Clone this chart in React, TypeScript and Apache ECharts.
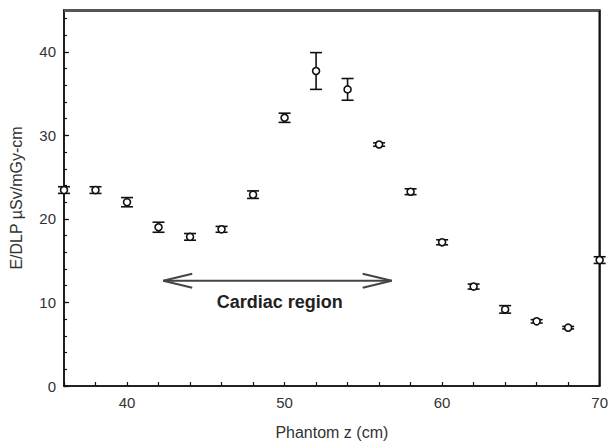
import React, { useEffect, useRef } from "react";
import * as echarts from "echarts";

const zValues = [36, 38, 40, 42, 44, 46, 48, 50, 52, 54, 56, 58, 60, 62, 64, 66, 68, 70];
const eDlp = [23.45, 23.45, 22.0, 19.0, 17.85, 18.75, 22.9, 32.1, 37.7, 35.5, 28.9, 23.25, 17.2, 11.9, 9.17, 7.74, 6.98, 15.07];
const errors = [0.4, 0.4, 0.55, 0.6, 0.4, 0.35, 0.45, 0.55, 2.2, 1.3, 0.2, 0.35, 0.3, 0.3, 0.45, 0.2, 0.15, 0.4];
const xTickLabels = [40, 50, 60, 70];
const yTickLabels = [0, 10, 20, 30, 40];
// annotation: arrow from z start to z end at value level, with label
const arrowSpan = [[42.3, 56.8, 12.6]];
const arrowText = "Cardiac region";
const arrowTextPos = [49.7, 10.05];
// plot frame corners (axis extents)
const frameCorners = [[36, 45, 70, 0]];
const yTop = 45;

export default function App() {
  const ref = useRef<HTMLDivElement>(null);
  useEffect(() => {
    if (!ref.current) return;
    const chart = echarts.init(ref.current, null, { renderer: "svg" });
    const font = "'Liberation Sans', Arial, sans-serif";
    const points = zValues.map((z, i) => [z, eDlp[i]]);
    const bars = zValues.map((z, i) => [z, eDlp[i], errors[i]]);
    chart.setOption({
      animation: false,
      backgroundColor: "#fff",
      grid: {
        show: true,
        left: 64,
        right: 8,
        top: 10,
        bottom: 59,
        containLabel: false,
        borderColor: "#555",
        borderWidth: 2,
      },
      xAxis: [
        {
          type: "value",
          min: 36,
          max: 70,
          interval: 2,
          name: "Phantom z (cm)",
          nameLocation: "middle",
          nameGap: 38,
          nameTextStyle: { fontFamily: font, fontSize: 16, color: "#333" },
          axisLine: { show: true, lineStyle: { color: "#111", width: 1.5 } },
          axisTick: { show: true, inside: true, length: 4, lineStyle: { color: "#111", width: 1.2 } },
          axisLabel: {
            fontFamily: font,
            fontSize: 15,
            color: "#333",
            margin: 9,
            formatter: (v: number) => (xTickLabels.includes(v) ? String(v) : ""),
          },
          splitLine: { show: false },
        },
      ],
      yAxis: [
        {
          type: "value",
          min: 0,
          max: 45,
          interval: 2,
          name: "E/DLP µSv/mGy-cm",
          nameLocation: "middle",
          nameGap: 40,
          nameTextStyle: { fontFamily: font, fontSize: 16, color: "#333" },
          axisLine: { show: true, lineStyle: { color: "#111", width: 1.5 } },
          axisTick: { show: true, inside: true, length: 3, lineStyle: { color: "#111", width: 1.2 } },
          axisLabel: {
            fontFamily: font,
            fontSize: 15,
            color: "#333",
            margin: 8,
            formatter: (v: number) => (yTickLabels.includes(v) ? String(v) : ""),
          },
          splitLine: { show: false },
        },
        {
          type: "value",
          position: "left",
          offset: 0,
          min: 0,
          max: 45,
          interval: 10,
          axisLine: { show: false },
          axisTick: { show: true, inside: true, length: 5, lineStyle: { color: "#111", width: 1.2 } },
          axisLabel: { show: false },
          splitLine: { show: false },
        },
      ],
      series: [
        {
          type: "custom",
          name: "frame",
          xAxisIndex: 0,
          yAxisIndex: 0,
          clip: false,
          silent: true,
          z: 1,
          data: frameCorners,
          encode: { x: [0, 2], y: [1, 3] },
          renderItem: (params: any, api: any) => {
            const tl = api.coord([api.value(0), api.value(1)]);
            const br = api.coord([api.value(2), api.value(3)]);
            return {
              type: "group",
              children: [
                { type: "line", shape: { x1: tl[0], y1: tl[1] + 1, x2: br[0], y2: tl[1] + 1 }, style: { stroke: "#555", lineWidth: 2 } },
                { type: "line", shape: { x1: br[0], y1: tl[1], x2: br[0], y2: br[1] }, style: { stroke: "#111", lineWidth: 2 } },
              ],
            };
          },
        },
        {
          type: "custom",
          name: "errors",
          xAxisIndex: 0,
          yAxisIndex: 1,
          clip: false,
          z: 2,
          data: bars,
          encode: { x: 0, y: 1 },
          renderItem: (params: any, api: any) => {
            const x = api.value(0);
            const y = api.value(1);
            const e = api.value(2);
            const top = api.coord([x, y + e]);
            const bot = api.coord([x, y - e]);
            const hw = 6;
            const style = { stroke: "#111", lineWidth: 1.6 };
            return {
              type: "group",
              children: [
                { type: "line", shape: { x1: top[0], y1: top[1], x2: bot[0], y2: bot[1] }, style },
                { type: "line", shape: { x1: top[0] - hw, y1: top[1], x2: top[0] + hw, y2: top[1] }, style },
                { type: "line", shape: { x1: bot[0] - hw, y1: bot[1], x2: bot[0] + hw, y2: bot[1] }, style },
              ],
            };
          },
        },
        {
          type: "scatter",
          name: "E/DLP",
          xAxisIndex: 0,
          yAxisIndex: 0,
          clip: false,
          z: 3,
          symbol: "circle",
          symbolSize: 7,
          itemStyle: { color: "#fff", borderColor: "#111", borderWidth: 1.6, opacity: 1 },
          data: points,
          markLine: {
            silent: true,
            symbol: "none",
            label: { show: false },
            lineStyle: { color: "#555", width: 2, type: "solid" },
            data: [{ yAxis: yTop }],
          },
        },
        {
          type: "custom",
          name: "arrow",
          xAxisIndex: 0,
          yAxisIndex: 0,
          z: 4,
          data: arrowSpan,
          encode: { x: [0, 1], y: 2 },
          renderItem: (params: any, api: any) => {
            const a = api.coord([api.value(0), api.value(2)]);
            const b = api.coord([api.value(1), api.value(2)]);
            const t = api.coord(arrowTextPos);
            const style = { stroke: "#444", lineWidth: 2, fill: "none" };
            const dx = 29;
            const dy = 7;
            return {
              type: "group",
              children: [
                { type: "line", shape: { x1: a[0], y1: a[1], x2: b[0], y2: b[1] }, style },
                {
                  type: "polyline",
                  shape: { points: [[a[0] + dx, a[1] - dy], [a[0], a[1]], [a[0] + dx, a[1] + dy]] },
                  style,
                },
                {
                  type: "polyline",
                  shape: { points: [[b[0] - dx, b[1] - dy], [b[0], b[1]], [b[0] - dx, b[1] + dy]] },
                  style,
                },
                {
                  type: "text",
                  x: t[0],
                  y: t[1],
                  style: {
                    text: arrowText,
                    fontFamily: font,
                    fontSize: 18,
                    fontWeight: "bold",
                    fill: "#222",
                    align: "center",
                    verticalAlign: "middle",
                  },
                },
              ],
            };
          },
        },
      ],
    });
    return () => chart.dispose();
  }, []);
  return <div ref={ref} style={{ width: 611, height: 445, position: "absolute", left: 0, top: 0 }} />;
}
